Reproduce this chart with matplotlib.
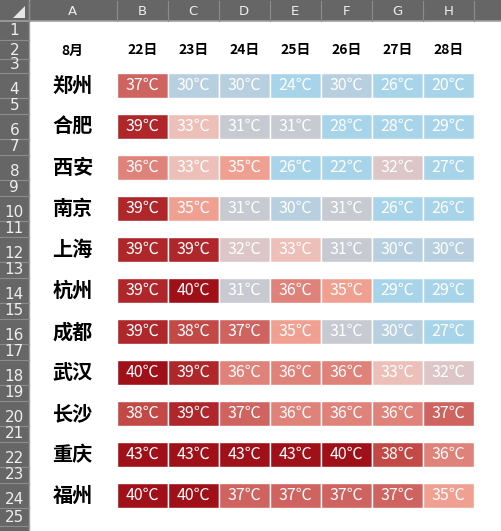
import numpy as np
import matplotlib
matplotlib.use("Agg")
import matplotlib.pyplot as plt
from matplotlib.patches import Rectangle, Polygon
from matplotlib.colors import LinearSegmentedColormap

plt.rcParams['font.family'] = ['Noto Sans CJK SC', 'DejaVu Sans']

# data
month_label = "8月"
days = ["22日", "23日", "24日", "25日", "26日", "27日", "28日"]
cities = ["郑州", "合肥", "西安", "南京", "上海", "杭州", "成都", "武汉", "长沙", "重庆", "福州"]
temps = [
    [37, 30, 30, 24, 30, 26, 20],
    [39, 33, 31, 31, 28, 28, 29],
    [36, 33, 35, 26, 22, 32, 27],
    [39, 35, 31, 30, 31, 26, 26],
    [39, 39, 32, 33, 31, 30, 30],
    [39, 40, 31, 36, 35, 29, 29],
    [39, 38, 37, 35, 31, 30, 27],
    [40, 39, 36, 36, 36, 33, 32],
    [38, 39, 37, 36, 36, 36, 37],
    [43, 43, 43, 43, 40, 38, 36],
    [40, 40, 37, 37, 37, 37, 35],
]
col_letters = ["A", "B", "C", "D", "E", "F", "G", "H"]

# colour scale (value -> colour)
vmin, vmax = 20, 43
stops = [(20, "#a8d4ea"), (29, "#a8d4ea"), (30, "#b8cfe0"), (31, "#c8cad2"),
         (32, "#dcc6c8"), (33, "#ecc0b8"), (35, "#f0a090"), (36, "#e0847c"),
         (37, "#d06460"), (38, "#c44a48"), (39, "#b0282c"), (40, "#a01018"),
         (43, "#a01018")]
cmap = LinearSegmentedColormap.from_list(
    "temp", [((v - vmin) / (vmax - vmin), c) for v, c in stops])

# sheet geometry (pixels)
W, H = 501, 531
hdr_h = 20.7
rowhdr_w = 28.7
col_w = [88] + [51] * 7 + [60]
row_h = [19, 19.5, 14] + [25, 16] * 10 + [25, 18, 20]

col_x = np.concatenate([[rowhdr_w], rowhdr_w + np.cumsum(col_w)])
row_y = np.concatenate([[hdr_h], hdr_h + np.cumsum(row_h)])

fig = plt.figure(figsize=(W / 100, H / 100), dpi=100)
ax = fig.add_axes([0, 0, 1, 1])
ax.set_xlim(0, W)
ax.set_ylim(H, 0)
ax.axis("off")

hdr_bg = "#666666"
hdr_line = "#8c8c8c"
hdr_txt = "#eeeeee"

# headers
ax.add_patch(Rectangle((0, 0), W, hdr_h, color=hdr_bg, lw=0))
ax.add_patch(Rectangle((0, 0), rowhdr_w, H, color=hdr_bg, lw=0))
ax.add_patch(Polygon([[25, 6], [25, 18], [13, 18]], closed=True, color="#e6e6e6", lw=0))
ax.plot([0, W], [hdr_h, hdr_h], color="#a0a0a0", lw=1.2)
ax.plot([rowhdr_w, rowhdr_w], [0, H], color="#a0a0a0", lw=1.0)

for i, x in enumerate(col_x[:-1]):
    ax.plot([x, x], [1, hdr_h], color=hdr_line, lw=0.8)
for i, let in enumerate(col_letters):
    ax.text((col_x[i] + col_x[i + 1]) / 2, hdr_h / 2 + 1, let, color=hdr_txt,
            fontsize=9.5, ha="center", va="center", family="DejaVu Sans")
ax.plot([col_x[len(col_letters)]] * 2, [1, hdr_h], color=hdr_line, lw=0.8)

for r in range(len(row_h)):
    y0, y1 = row_y[r], row_y[r + 1]
    ax.plot([0, rowhdr_w], [y1, y1], color=hdr_line, lw=0.8)
    if y1 > H + 5:
        continue
    ax.text(rowhdr_w / 2, y1 - 1.5, str(r + 1), color=hdr_txt, fontsize=11,
            ha="center", va="bottom", family="DejaVu Sans")

# header row (row 2)
y_hdr = (row_y[1] + row_y[2]) / 2 + 1
ax.text((col_x[0] + col_x[1]) / 2, y_hdr, month_label, fontsize=10,
        fontweight="bold", ha="center", va="center")
for j, d in enumerate(days):
    ax.text((col_x[j + 1] + col_x[j + 2]) / 2, y_hdr, d, fontsize=10,
            fontweight="bold", ha="center", va="center")

# data rows
for i, city in enumerate(cities):
    r = 3 + 2 * i
    y0, y1 = row_y[r], row_y[r + 1]
    yc = (y0 + y1) / 2
    ax.text((col_x[0] + col_x[1]) / 2, yc, city, fontsize=14.5, fontweight="bold",
            fontstyle="italic", ha="center", va="center")
    for j, t in enumerate(temps[i]):
        x0, x1 = col_x[j + 1], col_x[j + 2]
        ax.add_patch(Rectangle((x0, y0), x1 - x0, y1 - y0,
                               facecolor=cmap((t - vmin) / (vmax - vmin)),
                               edgecolor="white", lw=1.0))
        ax.text((x0 + x1) / 2, yc, f"{t}℃", color="white", fontsize=11.5,
                ha="center", va="center")

fig.savefig("out.png", dpi=100)
